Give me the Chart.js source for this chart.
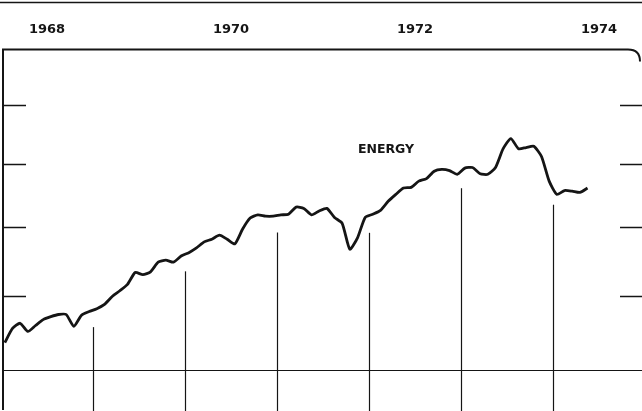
<!DOCTYPE html>
<html>
<head>
<meta charset="utf-8">
<script src="https://cdn.jsdelivr.net/npm/chart.js@4"></script>
<style>
  body { margin: 0; background: #fff; }
  canvas { display: block; }
</style>
</head>
<body>
<canvas id="energyChart" width="642" height="411"></canvas>
<script>
// monthly index, Jan 1968 .. May 1974 (log scale)
let startYear = 1968;
let energy = [
    113.6, 115.5, 116.2, 115.1, 115.9, 116.7, 117.1, 117.4, 117.4, 115.8, 117.3, 117.8,
    118.2, 118.8, 119.9, 120.7, 121.6, 123.3, 123.0, 123.4, 124.8, 125.1, 124.8, 125.7,
    126.2, 126.9, 127.8, 128.2, 128.8, 128.2, 127.5, 129.7, 131.4, 131.9, 131.7, 131.7,
    131.9, 132.0, 133.1, 132.9, 131.9, 132.5, 132.9, 131.5, 130.6, 126.7, 128.4, 131.5,
    132.0, 132.6, 134.0, 135.1, 136.1, 136.2, 137.2, 137.6, 138.8, 139.1, 138.9, 138.3,
    139.3, 139.4, 138.4, 138.3, 139.4, 142.5, 144.2, 142.5, 142.7, 142.9, 141.2, 137.2,
    135.1, 135.7, 135.6, 135.4, 136.1
];
let yearLabels = [1968, 1970, 1972, 1974];
let yearLines = [1969, 1970, 1971, 1972, 1973, 1974];
let yTicks = [120, 130, 140, 150];
let baseValue = 110;
let seriesName = "ENERGY";

let points = energy.map((v, i) => ({ x: startYear + (i + 0.5) / 12, y: v }));

let ink = "#151515";

const paperPlugin = {
    id: "paper",
    beforeDatasetsDraw(chart) {
        let ctx = chart.ctx;
        let a = chart.chartArea;
        let xs = chart.scales.x;
        let ys = chart.scales.y;
        ctx.save();
        ctx.strokeStyle = ink;

        // top frame line
        ctx.lineWidth = 1.5;
        ctx.beginPath();
        ctx.moveTo(0, 2.5);
        ctx.lineTo(chart.width, 2.5);
        ctx.stroke();

        // plot border: left side and top with rounded corner
        ctx.lineWidth = 2;
        ctx.beginPath();
        ctx.moveTo(a.left + 1, a.bottom);
        ctx.lineTo(a.left + 1, a.top);
        ctx.lineTo(a.right - 12, a.top);
        ctx.quadraticCurveTo(a.right, a.top, a.right, a.top + 12);
        ctx.stroke();

        // base line
        ctx.lineWidth = 1.2;
        let by = Math.round(ys.getPixelForValue(baseValue)) + 0.5;
        ctx.beginPath();
        ctx.moveTo(a.left, by);
        ctx.lineTo(chart.width, by);
        ctx.stroke();

        // short ticks on both sides
        ctx.lineWidth = 1.4;
        yTicks.forEach(t => {
            let py = Math.round(ys.getPixelForValue(t)) + 0.5;
            ctx.beginPath();
            ctx.moveTo(a.left, py);
            ctx.lineTo(a.left + 24, py);
            ctx.moveTo(chart.width - 22, py);
            ctx.lineTo(chart.width, py);
            ctx.stroke();
        });

        // year boundary lines, rising to just under the curve
        ctx.lineWidth = 1.2;
        yearLines.forEach(yr => {
            let k = (yr - startYear) * 12;
            let v = (energy[k - 1] + energy[Math.min(k, energy.length - 1)]) / 2;
            let px = Math.round(xs.getPixelForValue(yr)) + 0.5;
            let top = ys.getPixelForValue(v) + 17;
            ctx.beginPath();
            ctx.moveTo(px, a.bottom + 2);
            ctx.lineTo(px, top);
            ctx.stroke();
        });

        // series label
        ctx.fillStyle = ink;
        ctx.font = "bold 12.5px 'DejaVu Sans'";
        ctx.textAlign = "center";
        ctx.textBaseline = "middle";
        ctx.fillText(seriesName, 386, 150);
        ctx.restore();
    }
};

let ctx = document.getElementById("energyChart").getContext("2d");

let chart = new Chart(ctx, {
    type: "line",
    data: {
        datasets: [{
            label: seriesName,
            data: points,
            borderColor: ink,
            borderWidth: 2.8,
            pointRadius: 0,
            tension: 0.2,
            fill: false
        }]
    },
    options: {
        responsive: false,
        animation: false,
        layout: { padding: { top: 18, left: 2, right: 2, bottom: 1 } },
        plugins: {
            legend: { display: false },
            tooltip: { enabled: false }
        },
        scales: {
            x: {
                type: "linear",
                position: "top",
                min: startYear + 1 / 92,
                max: startYear + 639 / 92,
                grid: { display: false },
                border: { display: false },
                afterBuildTicks: s => {
                    s.ticks = yearLabels.map(v => ({ value: v + 0.5 }));
                },
                ticks: {
                    autoSkip: false,
                    maxRotation: 0,
                    padding: 4,
                    color: ink,
                    font: { family: "DejaVu Sans", weight: "bold", size: 13 },
                    callback: v => Math.floor(v)
                }
            },
            y: {
                type: "logarithmic",
                display: false,
                min: 105,
                max: 160
            }
        }
    },
    plugins: [paperPlugin]
});
</script>
</body>
</html>
